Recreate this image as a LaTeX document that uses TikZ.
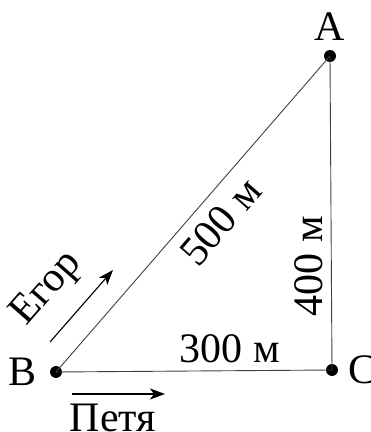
\documentclass[tikz,border=0pt]{standalone}
\usepackage{fontspec}
\setmainfont{Liberation Serif}
\usetikzlibrary{arrows.meta, positioning, calc}

\begin{document}
\begin{tikzpicture}[
                x=1pt, y=1pt,
                dot/.style={circle, fill=black, inner sep=0pt, minimum size=12pt},
                side/.style={line width=0.9pt, black!75},
                lbl/.style={font=\fontsize{42}{44}\selectfont, text=black, inner sep=0pt},
                move/.style={line width=1.1pt, -{Stealth[length=15pt, width=11pt, inset=4pt]}}
            ]%
            \useasboundingbox (0,0) rectangle (371,432);
            %
            % Vertices
            \node[dot] (A) at (330,376) {};
            \node[dot] (B) at (56,60) {};
            \node[dot] (C) at (332,62) {};
            \node[lbl, above=9pt of A] (A_lbl) {A};
            \node[lbl, left=13pt of B] (B_lbl) {B};
            \node[lbl, right=10pt of C] (C_lbl) {C};
            %
            % Sides
            \draw[side] (B.center) -- node[lbl, pos=0.53, sloped, below=11pt] (AB_lbl) {500 м} (A.center);
            \draw[side] (B.center) -- node[lbl, pos=0.63, above=7pt] (BC_lbl) {300 м} (C.center);
            \draw[side] (C.center) -- (A.center);
            \node[lbl, rotate=90, anchor=south] (CA_lbl) at ($(C.center)!0.33!(A.center)+(-8,0)$) {400 м};
            %
            % Directions of motion
            \coordinate (egor_start) at (50,90);
            \coordinate (egor_end) at (113,162);
            \coordinate (petya_start) at (72,38);
            \coordinate (petya_end) at (165,38);
            \draw[move] (egor_start) -- node[lbl, pos=0.4, sloped, above=18pt] (egor) {Егор} (egor_end);
            \draw[move] (petya_start) -- node[lbl, pos=0.44, below=9pt] (petya) {Петя} (petya_end);
        \end{tikzpicture}
\end{document}
